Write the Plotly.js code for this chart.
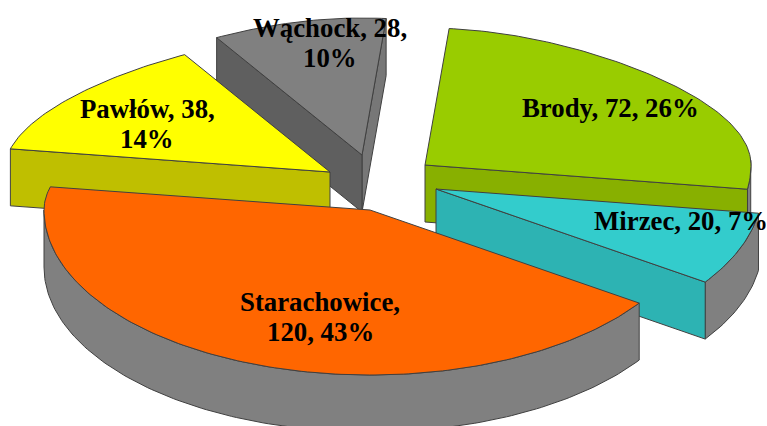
<!DOCTYPE html>
<html><head><meta charset="utf-8">
<script src="https://cdn.plot.ly/plotly-3.0.1.min.js"></script>
<style>html,body{margin:0;padding:0;background:#fff}#c{width:767px;height:426px}</style>
</head><body><div id="c"></div>
<script>
const categories = ["Brody","Mirzec","Starachowice","Pawłów","Wąchock"];
const values = [72,20,120,38,28];
const percents = [26,7,43,14,10];
const breakAfterValue = [false,false,false,true,true];
const breakAfterName = [false,false,true,false,false];

const topColors = ["#99CC00","#33CCCC","#FF6600","#FFFF00","#808080"];
const faceColors = ["#88B000","#2DB3B3","#808080","#BFBF00","#5F5F5F"];
const wallColor = "#808080";
const apexes = [[425,165],[436,189],[370,210],[330,172],[362,155]];
const labelPos = [[610,108],[681,221],[320,317],[147,124],[330,43]];
const startAngle = 5.2, A = 326, Bfront = 165, Bback = 137, depth = 57, lineGap = 30;

const total = values.reduce((s,v)=>s+v,0);
let acc = startAngle;
const spans = values.map(v=>{const a=acc; acc+=v/total*360; return [a,acc];});

function rim(i,deg,dz){
  const t=deg*Math.PI/180, c=Math.cos(t), s=Math.sin(t);
  const f = c>0 ? 1-0.185*c*c : 1;
  const b = c>0 ? Bback : Bfront;
  return [apexes[i][0]+A*s*f, apexes[i][1]-b*c+dz];
}
function arc(i,a,b,dz){const p=[];const n=Math.max(2,Math.ceil(Math.abs(b-a)));
  for(let k=0;k<=n;k++)p.push(rim(i,a+(b-a)*k/n,dz));return p;}
const line={color:"#404040",width:1};
function poly(pts,color){
  const x=pts.map(p=>p[0]).concat(pts[0][0]);
  const y=pts.map(p=>p[1]).concat(pts[0][1]);
  return {type:"scatter",mode:"lines",x,y,fill:"toself",fillcolor:color,line,hoverinfo:"skip",showlegend:false};
}
function sliceTop(i){return poly([apexes[i],...arc(i,spans[i][0],spans[i][1],0)],topColors[i]);}
function wall(i,a,b){return poly([...arc(i,a,b,0),...arc(i,b,a,depth)],wallColor);}
function face(i,deg,color){const r=rim(i,deg,0),ap=apexes[i];
  return poly([ap,r,[r[0],r[1]+depth],[ap[0],ap[1]+depth]],color);}

const traces=[
  face(4,spans[4][1],"#777777"),
  face(4,spans[4][0],faceColors[4]),
  sliceTop(4),
  wall(0,88,spans[0][1]),
  face(0,spans[0][1],faceColors[0]),
  sliceTop(0),
  face(3,spans[3][0],faceColors[3]),
  sliceTop(3),
  wall(1,spans[1][0],spans[1][1]),
  face(1,spans[1][1],faceColors[1]),
  sliceTop(1),
  wall(2,spans[2][0],270),
  sliceTop(2)
];
const annotations=[];
categories.forEach((n,i)=>{
  const text=n+","+(breakAfterName[i]?"\n":" ")+values[i]+","+(breakAfterValue[i]?"\n":" ")+percents[i]+"%";
  const lines=text.split("\n");
  lines.forEach((l,k)=>annotations.push({
    x:labelPos[i][0],y:labelPos[i][1]+(k-(lines.length-1)/2)*lineGap,xref:"x",yref:"y",showarrow:false,
    text:"<b>"+l+"</b>",font:{family:"Liberation Serif",size:26.8,color:"#000"},align:"center"
  }));
});
Plotly.newPlot("c",traces,{
  width:767,height:426,margin:{l:0,r:0,t:0,b:0},
  paper_bgcolor:"#fff",plot_bgcolor:"#fff",showlegend:false,
  xaxis:{range:[0,767],visible:false,fixedrange:true},
  yaxis:{range:[426,0],visible:false,fixedrange:true},
  annotations
},{displayModeBar:false,staticPlot:true});
</script></body></html>
